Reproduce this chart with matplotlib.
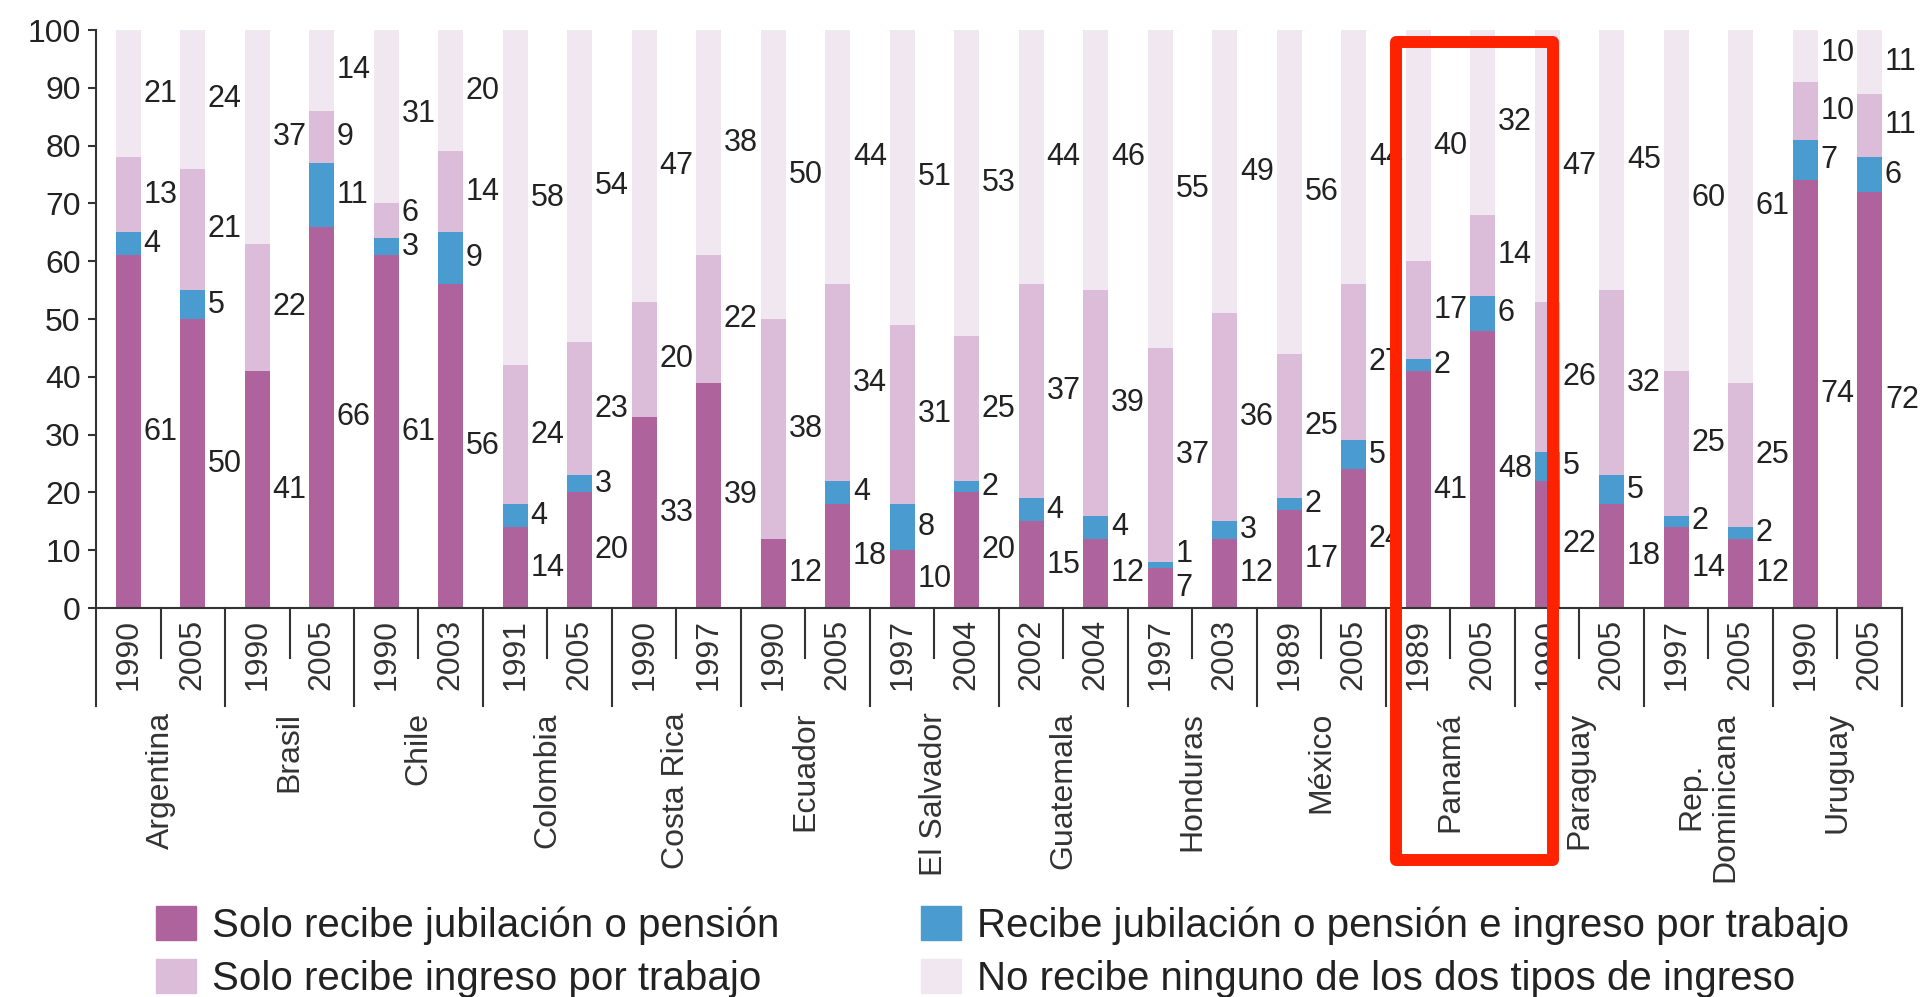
import matplotlib.pyplot as plt
from matplotlib.patches import Patch, Rectangle

plt.rcParams['font.family'] = ['Liberation Sans', 'DejaVu Sans']

countries = ["Argentina", "Brasil", "Chile", "Colombia", "Costa Rica", "Ecuador",
             "El Salvador", "Guatemala", "Honduras", "México", "Panamá", "Paraguay",
             "Rep.\nDominicana", "Uruguay"]
years = ["1990", "2005", "1990", "2005", "1990", "2003", "1991", "2005",
         "1990", "1997", "1990", "2005", "1997", "2004", "2002", "2004",
         "1997", "2003", "1989", "2005", "1989", "2005", "1990", "2005",
         "1997", "2005", "1990", "2005"]

# bottom to top
solo_pension = [61, 50, 41, 66, 61, 56, 14, 20, 33, 39, 12, 18, 10, 20,
                15, 12, 7, 12, 17, 24, 41, 48, 22, 18, 14, 12, 74, 72]
ambos = [4, 5, 0, 11, 3, 9, 4, 3, 0, 0, 0, 4, 8, 2,
         4, 4, 1, 3, 2, 5, 2, 6, 5, 5, 2, 2, 7, 6]
solo_trabajo = [13, 21, 22, 9, 6, 14, 24, 23, 20, 22, 38, 34, 31, 25,
                37, 39, 37, 36, 25, 27, 17, 14, 26, 32, 25, 25, 10, 11]
ninguno = [21, 24, 37, 14, 31, 20, 58, 54, 47, 38, 50, 44, 51, 53,
           44, 46, 55, 49, 56, 44, 40, 32, 47, 45, 60, 61, 10, 11]

series = [solo_pension, ambos, solo_trabajo, ninguno]
names = ["Solo recibe jubilación o pensión",
         "Recibe jubilación o pensión e ingreso por trabajo",
         "Solo recibe ingreso por trabajo",
         "No recibe ninguno de los dos tipos de ingreso"]
colors = ["#AF639C", "#4A9BD0", "#DBBDD9", "#F0E7F1"]

W, H = 1929, 997
fig = plt.figure(figsize=(W / 100, H / 100), dpi=100)
ax = fig.add_axes([96 / W, 1 - 608 / H, 1806 / W, 578 / H])

x = list(range(len(years)))
bw = 0.39
bottom = [0] * len(x)
last_label = [-10.0] * len(x)
for k, (vals, col) in enumerate(zip(series, colors)):
    # the last segment fills the bar up to 100 (values are rounded)
    heights = vals if k < len(series) - 1 else [max(100 - b, v) for b, v in zip(bottom, vals)]
    ax.bar(x, heights, bw, bottom=bottom, color=col, linewidth=0)
    for i, v in enumerate(vals):
        if v > 0:
            y = max(bottom[i] + heights[i] / 2, last_label[i] + 5.8)
            last_label[i] = y
            ax.text(i + bw / 2 + 0.04, y, str(v), ha='left',
                    va='center', fontsize=22, color='#222222')
    bottom = [b + h for b, h in zip(bottom, heights)]

ax.set_xlim(-0.5, len(x) - 0.5)
ax.set_ylim(0, 100)
ax.set_yticks(range(0, 101, 10))
ax.set_xticks(x)
ax.set_xticklabels(years, rotation=90, fontsize=23, color='#333333')
ax.tick_params(axis='x', length=0, pad=8)
ax.tick_params(axis='y', labelsize=23, length=6, width=1.5, pad=5,
               colors='#333333', labelcolor='#222222')
for s in ['top', 'right']:
    ax.spines[s].set_visible(False)
for s in ['left', 'bottom']:
    ax.spines[s].set_color('#333333')
    ax.spines[s].set_linewidth(1.5)

# separators below the axis
tr = ax.get_xaxis_transform()
for k in range(len(x) + 1):
    low = -0.17 if k % 2 == 0 else -0.0865
    ax.plot([k - 0.5, k - 0.5], [0, low], transform=tr, color='#333333',
            lw=1.5, clip_on=False)

for j, c in enumerate(countries):
    ax.text(2 * j + 0.5, -0.18, c, transform=tr, rotation=90, ha='center',
            va='top', fontsize=23, color='#333333', multialignment='center')

handles = [Patch(color=colors[0]), Patch(color=colors[2]),
           Patch(color=colors[1]), Patch(color=colors[3])]
labels = [names[0], names[2], names[1], names[3]]
fig.legend(handles, labels, loc='upper left', bbox_to_anchor=(156 / W, 1 - 906 / H),
           ncol=2, frameon=False, fontsize=29, handlelength=1.0, handleheight=0.93,
           handletextpad=0.4, columnspacing=3.5, labelspacing=0.35,
           borderpad=0, borderaxespad=0, labelcolor='#222222')

# red highlight box around Panama
fig.add_artist(Rectangle((1396 / W, 1 - 860 / H), 157 / W, 818 / H,
                         transform=fig.transFigure, fill=False, edgecolor='#FF2200',
                         linewidth=8.6, joinstyle='round', zorder=10))

fig.savefig("out.png", dpi=100)
